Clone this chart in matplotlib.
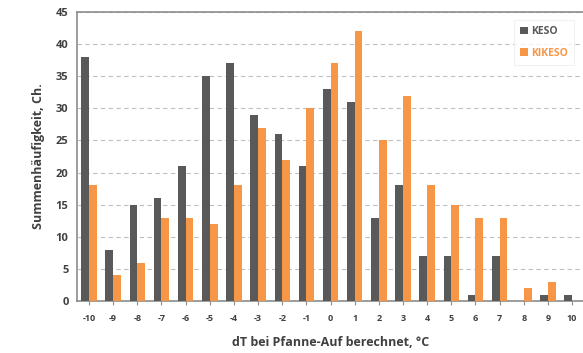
import numpy as np
import matplotlib
matplotlib.use("Agg")
import matplotlib.pyplot as plt

categories = [str(v) for v in range(-10, 11)]
keso = [38, 8, 15, 16, 21, 35, 37, 29, 26, 21, 33, 31, 13, 18, 7, 7, 1, 7, 0, 1, 1]
kikeso = [18, 4, 6, 13, 13, 12, 18, 27, 22, 30, 37, 42, 25, 32, 18, 15, 13, 13, 2, 3, 0]

dark = '#595959'
orange = '#F79646'

plt.rcParams['font.family'] = ['Open Sans', 'DejaVu Sans']

fig = plt.figure(figsize=(5.83, 3.53), dpi=100)
ax = fig.add_axes([0.132, 0.147, 0.87, 0.819])

x = np.arange(len(categories))
w = 0.32
ax.bar(x - w / 2, keso, w, color=dark, label='KESO', zorder=3)
ax.bar(x + w / 2, kikeso, w, color=orange, label='KIKESO', zorder=3)

ax.set_xlim(-0.5, len(categories) - 0.5)
ax.set_ylim(0, 45)
ax.set_yticks(range(0, 46, 5))
ax.set_xticks(x)
ax.set_xticklabels(categories)
ax.yaxis.grid(True, linestyle=(0, (4, 3)), color='#bfbfbf', linewidth=0.8, zorder=0)

for s in ['left', 'top', 'bottom']:
    ax.spines[s].set_color('#8c8c8c')
    ax.spines[s].set_linewidth(1.2)
ax.spines['right'].set_visible(False)

ax.tick_params(axis='y', length=0, labelsize=8, labelcolor='#404040', pad=6)
ax.tick_params(axis='x', length=3, color='#8c8c8c', labelsize=6.5, labelcolor='#404040', pad=6)
for lab in ax.get_xticklabels() + ax.get_yticklabels():
    lab.set_fontweight('bold')

ax.set_ylabel('Summenhäufigkeit, Ch.', fontsize=9, fontweight='bold', color='#404040', labelpad=8)
ax.set_xlabel('dT bei Pfanne-Auf berechnet, °C', fontsize=9, fontweight='bold', color='#404040', labelpad=10)

leg = ax.legend(loc='upper right', bbox_to_anchor=(0.99, 0.99), fontsize=7.5, frameon=True,
                handlelength=0.7, handleheight=0.7, handletextpad=0.3, labelspacing=1.0,
                borderpad=0.6, fancybox=False)
leg.get_frame().set_edgecolor('#eeeeee')
leg.get_frame().set_linewidth(0.8)
for t, c in zip(leg.get_texts(), [dark, orange]):
    t.set_color(c)
    t.set_fontweight('bold')

fig.savefig('out.png', dpi=100)
